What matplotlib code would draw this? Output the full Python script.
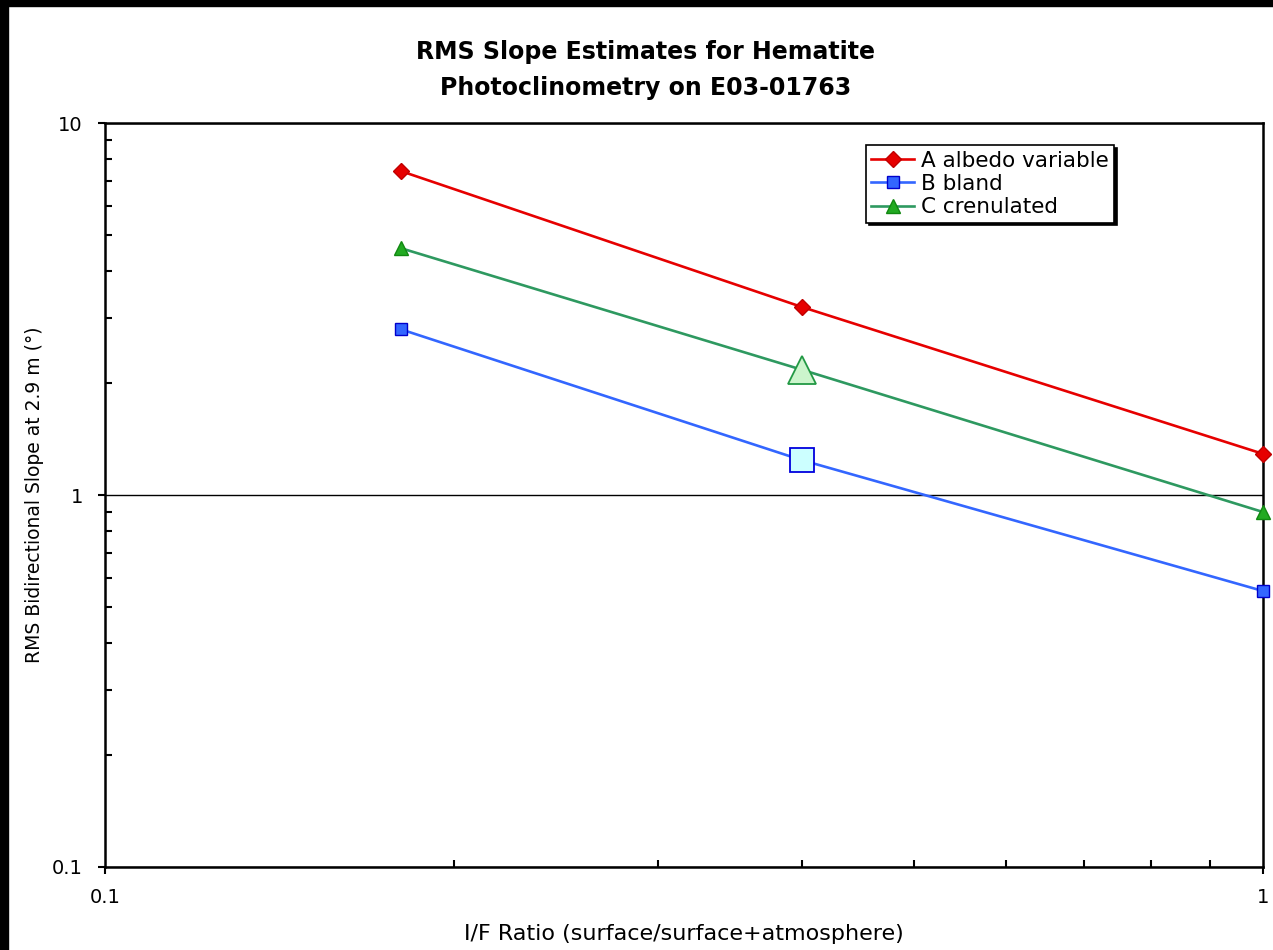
import matplotlib.pyplot as plt
from matplotlib.ticker import LogLocator, NullFormatter, FixedLocator, FixedFormatter

# data
if_ratio = [0.18, 0.40, 1.0]
slope_a = [7.43, 3.20, 1.29]
slope_b = [2.79, 1.24, 0.552]
slope_c = [4.61, 2.17, 0.90]
names = ['A albedo variable', 'B bland', 'C crenulated']
ytick_vals = [0.1, 1, 10]
ytick_text = ['0.1', '1', '10']
xtick_vals = [0.1, 1]
xtick_text = ['0.1', '1']

fig = plt.figure(figsize=(12.73, 9.5), dpi=100)
fig.patch.set_facecolor('white')
# black strips on top and left edge
fig.patches.append(plt.Rectangle((0, 1 - 6 / 950), 1, 6 / 950, transform=fig.transFigure, color='black', zorder=0))
fig.patches.append(plt.Rectangle((0, 0), 8 / 1273, 1, transform=fig.transFigure, color='black', zorder=0))

ax = fig.add_axes([105 / 1273, 1 - 867 / 950, (1263 - 105) / 1273, (867 - 123) / 950])
ax.set_xscale('log')
ax.set_yscale('log')
ax.set_xlim(0.1, 1)
ax.set_ylim(0.1, 10)

ax.plot(if_ratio, slope_a, color='#e60000', lw=1.9, marker='D', ms=8, mfc='#e60000', mec='#c00000', label=names[0], zorder=3, clip_on=False)
ax.plot(if_ratio, slope_b, color='#3366ff', lw=1.9, marker='s', ms=9, mfc='#3366ff', mec='#0000cc', label=names[1], zorder=3, clip_on=False)
ax.plot(if_ratio, slope_c, color='#2e9960', lw=1.9, marker='^', ms=10, mfc='#22aa22', mec='#118811', label=names[2], zorder=3, clip_on=False)

# highlighted middle points
ax.plot(if_ratio[1], slope_b[1], marker='s', ms=17, mfc='#ccffff', mec='#0000dd', mew=1.3, ls='none', zorder=4)
ax.plot(if_ratio[1], slope_c[1], marker='^', ms=20, mfc='#ccf5cc', mec='#229944', mew=1.3, ls='none', zorder=4)

ax.yaxis.set_major_locator(FixedLocator(ytick_vals))
ax.yaxis.set_major_formatter(FixedFormatter(ytick_text))
ax.xaxis.set_major_locator(FixedLocator(xtick_vals))
ax.xaxis.set_major_formatter(FixedFormatter(xtick_text))
ax.xaxis.set_minor_locator(LogLocator(base=10, subs=range(2, 10)))
ax.yaxis.set_minor_locator(LogLocator(base=10, subs=range(2, 10)))
ax.xaxis.set_minor_formatter(NullFormatter())
ax.yaxis.set_minor_formatter(NullFormatter())
ax.tick_params(which='major', direction='out', length=5, width=1.5, labelsize=14)
ax.tick_params(axis='x', which='major', pad=10)
ax.tick_params(axis='y', which='major', pad=11)
ax.tick_params(which='minor', direction='in', length=5, width=1.5)
ax.grid(True, axis='y', which='major', color='black', lw=1)

for s in ax.spines.values():
    s.set_linewidth(1.8)

ax.set_xlabel('I/F Ratio (surface/surface+atmosphere)', fontsize=16, labelpad=12)
ax.set_ylabel('RMS Bidirectional Slope at 2.9 m (°)', fontsize=13.5, labelpad=6)

fig.text(0.507, 1 - 52 / 950, 'RMS Slope Estimates for Hematite', ha='center', va='center', fontsize=17, fontweight='bold')
fig.text(0.507, 1 - 88 / 950, 'Photoclinometry on E03-01763', ha='center', va='center', fontsize=17, fontweight='bold')

leg = ax.legend(loc='upper left', bbox_to_anchor=(0.657, 0.97), borderaxespad=0, fontsize=15.5,
                fancybox=False, edgecolor='black', framealpha=1, handlelength=2.0, handletextpad=0.3,
                labelspacing=0.15, borderpad=0.25, shadow={'color': 'black', 'alpha': 1})
leg.get_frame().set_linewidth(1.2)

fig.savefig('out.png', dpi=100)
